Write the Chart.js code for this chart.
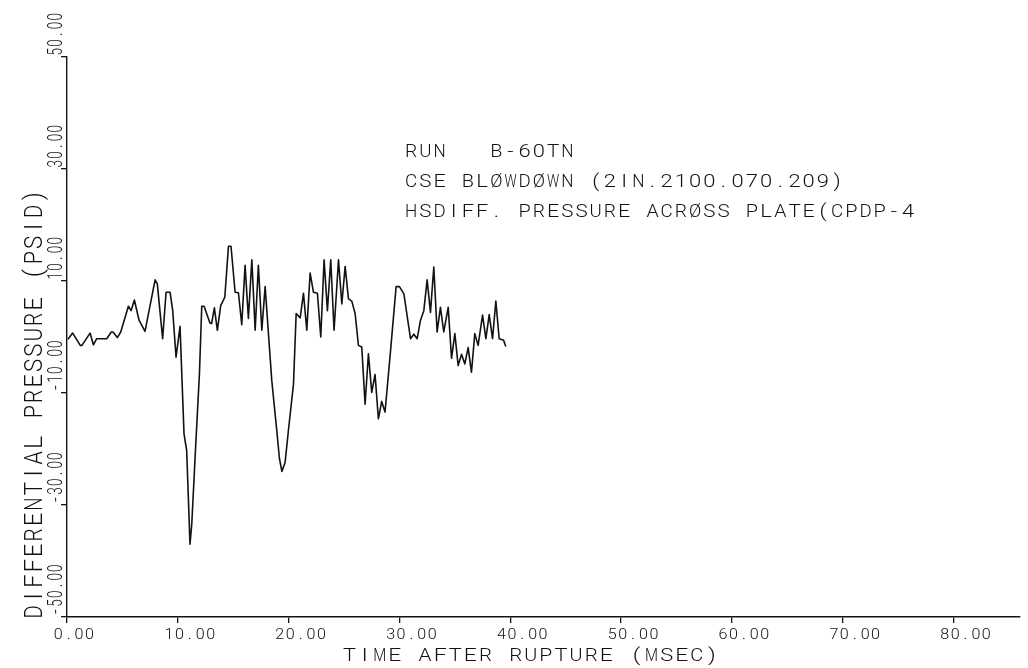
<!DOCTYPE html>
<html>
<head>
<meta charset="utf-8">
<script src="https://cdn.jsdelivr.net/npm/chart.js@4.4.1/dist/chart.umd.min.js"></script>
<style>
  html, body { margin: 0; padding: 0; background: #ffffff; }
  #wrap { width: 1028px; height: 668px; }
</style>
</head>
<body>
<div id="wrap"><canvas id="plot" width="1028" height="668"></canvas></div>
<script>
// Time after rupture (msec)
const timeMs = [
  0.05, 0.12, 0.51, 1.20, 1.35, 2.08, 2.38, 2.68, 3.58, 4.00,
  4.15, 4.54, 4.85, 5.54, 5.78, 6.08, 6.50, 7.04, 7.95, 8.15,
  8.63, 8.94, 9.30, 9.54, 9.84, 10.20, 10.56, 10.80, 11.10, 11.26,
  11.56, 11.95, 12.16, 12.37, 12.90, 13.05, 13.30, 13.57, 13.87, 14.24,
  14.57, 14.80, 15.17, 15.47, 15.77, 16.07, 16.37, 16.68, 16.98, 17.27,
  17.58, 17.88, 18.48, 18.93, 19.17, 19.39, 19.68, 19.98, 20.44, 20.68,
  21.04, 21.34, 21.64, 21.94, 22.24, 22.60, 22.90, 23.20, 23.50, 23.80,
  24.10, 24.50, 24.80, 25.10, 25.40, 25.70, 26.00, 26.30, 26.60, 26.90,
  27.20, 27.50, 27.80, 28.10, 28.40, 28.70, 29.20, 29.70, 30.00, 30.40,
  31.00, 31.30, 31.60, 31.90, 32.20, 32.50, 32.80, 33.10, 33.40, 33.70,
  34.00, 34.40, 34.70, 35.00, 35.30, 35.60, 35.90, 36.20, 36.50, 36.80,
  37.10, 37.50, 37.80, 38.10, 38.40, 38.70, 39.00, 39.40, 39.60
];

// Differential pressure across plate (psid)
const pressurePsid = [
  -0.3, -0.3, 0.7, -1.5, -1.5, 0.7, -1.4, -0.3, -0.3, 0.9,
  0.9, -0.1, 0.9, 5.5, 4.7, 6.6, 3.0, 1.0, 10.2, 9.5,
  -0.3, 8.0, 8.0, 4.7, -3.6, 1.9, -17.3, -20.3, -37.0, -33.4,
  -21.5, -6.6, 5.5, 5.5, 2.5, 2.4, 5.2, 1.2, 5.6, 7.1,
  16.2, 16.2, 8.0, 7.9, 2.2, 12.8, 3.3, 13.8, 1.2, 12.8,
  1.2, 9.0, -7.8, -16.7, -21.7, -24.0, -22.4, -16.7, -8.4, 4.2,
  3.4, 7.8, 1.2, 11.4, 8.0, 7.8, 0.0, 13.8, 4.7, 13.8,
  1.2, 13.8, 5.9, 12.6, 6.8, 6.4, 4.2, -1.5, -1.8, -12.0,
  -3.0, -9.9, -6.7, -14.6, -11.5, -13.4, -2.4, 9.0, 9.0, 7.7,
  -0.3, 0.5, -0.3, 3.0, 4.7, 10.2, 4.4, 12.5, 0.9, 5.3,
  0.9, 5.3, -3.8, 0.6, -5.1, -3.1, -4.8, -1.9, -6.3, 0.6,
  -1.5, 3.9, -0.3, 4.0, -0.3, 6.4, -0.3, -0.6, -1.7
];

// Axis tick values
const xTicks = [0, 10, 20, 30, 40, 50, 60, 70, 80];
const yTicks = [-50, -30, -10, 10, 30, 50];

// Captions
const xTitle = 'TIME AFTER RUPTURE (MSEC)';
const yTitle = 'DIFFERENTIAL PRESSURE (PSID)';
const headerLines = [
  'RUN   B-60TN',
  'CSE BLØWDØWN (2IN.2100.070.209)',
  'HSDIFF. PRESSURE ACRØSS PLATE(CPDP-4'
];

const INK = '#121212';
const FONT_FAMILY = 'Roboto, "Open Sans", "DejaVu Sans", sans-serif';
const FONT_WEIGHT = 300;
const CAP_RATIO = 0.711;  // cap height / font size

// Plotter-style lettering: fixed character pitch, each glyph centred in its cell.
// cap = cap height, pitch = distance between cells, sx = horizontal glyph stretch
// (narrowed for wide glyphs so that they stay inside their cell).
function letter(ctx, text, x, y, cap, pitch, sx, rot, align) {
  const size = cap / CAP_RATIO;
  const chars = Array.from(text);
  const total = chars.length * pitch;
  const start = align === 'center' ? -total / 2 : (align === 'right' ? -total : 0);
  ctx.save();
  ctx.translate(x, y);
  ctx.rotate(rot);
  ctx.font = FONT_WEIGHT + ' ' + size.toFixed(2) + 'px ' + FONT_FAMILY;
  ctx.fillStyle = INK;
  ctx.textAlign = 'center';
  ctx.textBaseline = 'alphabetic';
  chars.forEach((ch, i) => {
    if (ch === ' ') return;
    const w = ctx.measureText(ch).width;
    const k = Math.min(sx, (pitch * 0.86) / Math.max(w, 1));
    ctx.save();
    ctx.translate(start + (i + 0.5) * pitch, 0);
    ctx.scale(k, 1);
    ctx.fillText(ch, 0, 0);
    ctx.restore();
  });
  ctx.restore();
}

const lettering = {
  id: 'lettering',
  afterDraw(chart) {
    const ctx = chart.ctx;
    const xs = chart.scales.x;
    const ys = chart.scales.y;

    xTicks.forEach(v => {
      letter(ctx, v.toFixed(2), xs.getPixelForValue(v) - 14, 639, 11, 10.4, 1.2, 0, 'left');
    });
    yTicks.forEach(v => {
      letter(ctx, v.toFixed(2), 62, ys.getPixelForValue(v) - 1, 15, 8.7, 0.8, -Math.PI / 2, 'left');
    });

    letter(ctx, xTitle, 342, 661, 13, 15.1, 1.3, 0, 'left');
    letter(ctx, yTitle, 42, 404, 18, 15.4, 1.0, -Math.PI / 2, 'center');

    const base = [157, 187, 217];
    headerLines.forEach((line, i) => {
      letter(ctx, line, 404, base[i], 12.5, 14.2, 1.25, 0, 'left');
    });
  }
};

const points = timeMs.map((t, i) => ({ x: t, y: pressurePsid[i] }));

new Chart(document.getElementById('plot'), {
  type: 'line',
  data: {
    datasets: [{
      data: points,
      borderColor: INK,
      borderWidth: 1.6,
      borderJoinStyle: 'round',
      pointRadius: 0,
      tension: 0,
      fill: false
    }]
  },
  options: {
    responsive: false,
    animation: false,
    events: [],
    layout: { padding: { left: 61, top: 57, right: 8, bottom: 45 } },
    plugins: { legend: { display: false }, tooltip: { enabled: false } },
    scales: {
      x: {
        type: 'linear',
        min: 0,
        max: 86,
        afterBuildTicks: s => { s.ticks = xTicks.map(v => ({ value: v })); },
        ticks: { display: false },
        grid: { drawOnChartArea: false, drawTicks: true, tickLength: 6, color: INK, lineWidth: 1.3 },
        border: { display: true, color: INK, width: 1.4 }
      },
      y: {
        type: 'linear',
        min: -50,
        max: 50,
        afterBuildTicks: s => { s.ticks = yTicks.map(v => ({ value: v })); },
        ticks: { display: false },
        grid: { drawOnChartArea: false, drawTicks: true, tickLength: 6, color: INK, lineWidth: 1.3 },
        border: { display: true, color: INK, width: 1.4 }
      }
    }
  },
  plugins: [lettering]
});
</script>
</body>
</html>
